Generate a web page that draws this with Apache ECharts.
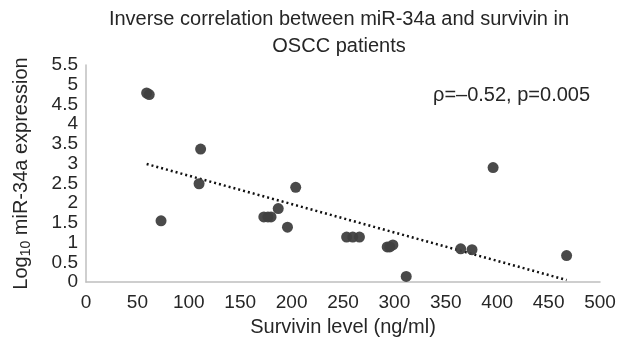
<!DOCTYPE html>
<html>
<head>
<meta charset="utf-8">
<script src="https://cdn.jsdelivr.net/npm/echarts@6/dist/echarts.min.js"></script>
<style>
  html, body { margin: 0; padding: 0; background: #fff; }
  #chart { width: 628px; height: 344px; }
</style>
</head>
<body>
<div id="chart"></div>
<script>
// Survivin (ng/ml) vs log10 miR-34a
const survivin = [59, 61.5, 111.5, 110, 73, 204, 187, 173, 177, 180, 196, 253.5, 259.5, 266, 293, 295.5, 298.5, 311.5, 364.5, 375.5, 396, 467.5];
const mir34a = [4.79, 4.75, 3.37, 2.49, 1.55, 2.4, 1.86, 1.65, 1.65, 1.65, 1.39, 1.14, 1.14, 1.14, 0.89, 0.89, 0.94, 0.14, 0.84, 0.82, 2.9, 0.67];
const trendX = [59, 467.5];
const trendY = [2.99, 0.05];
const yTicks = [0, 0.5, 1, 1.5, 2, 2.5, 3, 3.5, 4, 4.5, 5, 5.5];

const font = '"Liberation Sans", Arial, sans-serif';
const ink = '#262626';
const chart = echarts.init(document.getElementById('chart'));

chart.setOption({
  animation: false,
  title: {
    text: 'Inverse correlation between miR-34a and survivin in\nOSCC patients',
    left: 334,
    textAlign: 'center',
    top: 1,
    textStyle: { fontFamily: font, fontSize: 20, fontWeight: 'normal', color: ink, lineHeight: 27 }
  },
  grid: { left: 86, right: 28, top: 65, bottom: 62 },
  xAxis: {
    type: 'value',
    min: 0, max: 500, interval: 50,
    name: 'Survivin level (ng/ml)',
    nameLocation: 'middle',
    nameGap: 35,
    nameTextStyle: { fontFamily: font, fontSize: 20, color: ink },
    axisLine: { lineStyle: { color: '#bfbfbf', width: 1.5 } },
    axisTick: { show: false },
    splitLine: { show: false },
    axisLabel: { fontFamily: font, fontSize: 19, color: ink, margin: 11 }
  },
  yAxis: {
    type: 'value',
    min: 0, max: 5.5, interval: 0.5,
    name: 'Log{sub|10} miR-34a expression',
    nameLocation: 'middle',
    nameGap: 53,
    nameRotate: 90,
    nameTextStyle: {
      fontFamily: font, fontSize: 20, color: ink,
      rich: { sub: { fontFamily: font, fontSize: 14, color: ink, verticalAlign: 'bottom', padding: [9, 0, 0, 0] } }
    },
    axisLine: { show: true, lineStyle: { color: '#bfbfbf', width: 1.5 } },
    axisTick: { show: false },
    splitLine: { show: false },
    axisLabel: {
      fontFamily: font, fontSize: 19, color: ink, margin: 8, lineHeight: 18,
      formatter: v => yTicks.includes(v) ? String(v) : ''
    }
  },
  graphic: [{
    type: 'text',
    left: 433,
    top: 85,
    style: { text: 'ρ=\u20130.52, p=0.005', font: '20px ' + font, fill: ink }
  }],
  series: [
    {
      type: 'scatter',
      symbolSize: 11,
      itemStyle: { color: '#404040', opacity: 0.95 },
      data: survivin.map((x, i) => [x, mir34a[i]]),
      z: 3
    },
    {
      type: 'line',
      symbol: 'none',
      lineStyle: { color: '#111', width: 2.5, type: [2, 3] },
      data: trendX.map((x, i) => [x, trendY[i]]),
      z: 2
    }
  ]
});
</script>
</body>
</html>
